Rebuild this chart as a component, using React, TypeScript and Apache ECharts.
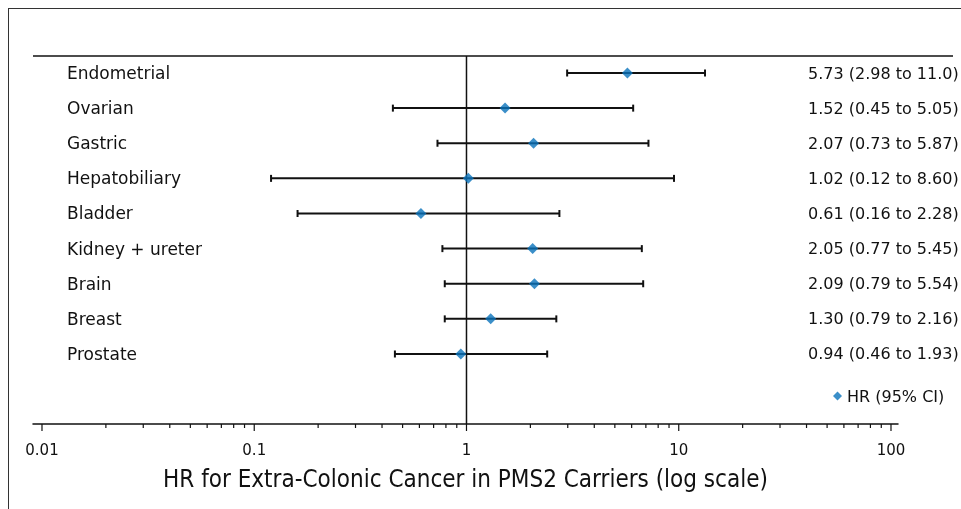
import React, { useEffect, useRef } from "react";
import * as echarts from "echarts";

// ---- data ----
const categories = [
  "Endometrial",
  "Ovarian",
  "Gastric",
  "Hepatobiliary",
  "Bladder",
  "Kidney + ureter",
  "Brain",
  "Breast",
  "Prostate",
];
const hr = [5.73, 1.52, 2.07, 1.02, 0.61, 2.05, 2.09, 1.3, 0.94];
const ciLow = [2.98, 0.45, 0.73, 0.12, 0.16, 0.77, 0.79, 0.79, 0.46];
const ciHighLabel = ["11.0", "5.05", "5.87", "8.60", "2.28", "5.45", "5.54", "2.16", "1.93"];
// upper whisker ends as drawn in the picture
const ciHighDrawn = [13.3, 6.1, 7.2, 9.5, 2.74, 6.7, 6.8, 2.65, 2.4];
const majorTicks = [0.01, 0.1, 1, 10, 100];
const tickLabels = ["0.01", "0.1", "1", "10", "100"];
const legendName = "HR (95% CI)";
const axisTitle = "HR for Extra-Colonic Cancer in PMS2 Carriers (log scale)";

// ---- layout ----
const GRID_LEFT = 24;
const GRID_TOP = 47;
const GRID_W = 865;
const GRID_H = 368;
const X_MIN = 0.009071;
const X_MAX = 107.9;
const Y_MIN = -0.484;
const Y_MAX = 9.993;
const CAT_X = 58;
const CI_TEXT_X = 799;
const TOP_LINE_RIGHT = 944;
const FONT = "'DejaVu Sans', sans-serif";
const INK = "#111";
const BLUE = "#0a73bb";

const minorTicks: number[] = [];
majorTicks.slice(0, -1).forEach((d) => {
  for (let k = 2; k <= 9; k++) minorTicks.push(k * d);
});

export default function App() {
  const ref = useRef<HTMLDivElement>(null);
  useEffect(() => {
    if (!ref.current) return;
    const chart = echarts.init(ref.current, null, { renderer: "svg" });
    const rows = categories.map((c, i) => [ciLow[i], ciHighDrawn[i], i]);
    const tickData = [
      ...majorTicks.map((v, i) => [v, 1, i]),
      ...minorTicks.map((v) => [v, 0, -1]),
    ];
    chart.setOption({
      animation: false,
      grid: { left: GRID_LEFT, top: GRID_TOP, width: GRID_W, height: GRID_H },
      legend: {
        data: [legendName],
        left: 824,
        top: 379,
        padding: 0,
        icon: "diamond",
        itemWidth: 9,
        itemHeight: 9,
        textStyle: { fontFamily: FONT, fontSize: 16, color: INK },
      },
      xAxis: {
        type: "log",
        logBase: 10,
        min: X_MIN,
        max: X_MAX,
        axisLine: { show: true, onZero: false, lineStyle: { color: INK, width: 1.5 } },
        axisTick: { show: false },
        axisLabel: { show: false },
        splitLine: { show: false },
        name: axisTitle,
        nameLocation: "middle",
        nameGap: 43,
        nameTextStyle: {
          fontFamily: "'DejaVu Sans Condensed', 'DejaVu Sans', sans-serif",
          fontSize: 24,
          color: INK,
        },
      },
      yAxis: {
        type: "value",
        inverse: true,
        min: Y_MIN,
        max: Y_MAX,
        show: false,
      },
      graphic: [
        {
          type: "line",
          shape: { x1: GRID_LEFT, y1: GRID_TOP, x2: TOP_LINE_RIGHT, y2: GRID_TOP },
          style: { stroke: INK, lineWidth: 1.5 },
        },
      ],
      series: [
        {
          type: "custom",
          name: "ref",
          silent: true,
          z: 1,
          data: [[1]],
          renderItem: (params: any, api: any) => {
            const cs = params.coordSys;
            const x = api.coord([api.value(0), 0])[0];
            return {
              type: "line",
              shape: { x1: x, y1: cs.y, x2: x, y2: cs.y + cs.height },
              style: { stroke: INK, lineWidth: 1.5 },
            };
          },
        },
        {
          type: "custom",
          name: "ticks",
          silent: true,
          z: 1,
          data: tickData,
          renderItem: (params: any, api: any) => {
            const cs = params.coordSys;
            const x = api.coord([api.value(0), 0])[0];
            const yb = cs.y + cs.height;
            const major = api.value(1) === 1;
            const children: any[] = [
              {
                type: "line",
                shape: { x1: x, y1: yb, x2: x, y2: yb + (major ? 7 : 4) },
                style: { stroke: INK, lineWidth: 1.2 },
              },
            ];
            if (major) {
              children.push({
                type: "text",
                x,
                y: yb + 26,
                style: {
                  text: tickLabels[api.value(2)],
                  fontFamily: FONT,
                  fontSize: 15,
                  fill: INK,
                  align: "center",
                  verticalAlign: "middle",
                },
              });
            }
            return { type: "group", children };
          },
        },
        {
          type: "custom",
          name: "ci",
          silent: true,
          z: 2,
          data: rows,
          encode: { x: [0, 1], y: 2 },
          renderItem: (params: any, api: any) => {
            const i = api.value(2);
            const p0 = api.coord([api.value(0), i]);
            const p1 = api.coord([api.value(1), i]);
            const y = p0[1];
            const lineStyle = { stroke: INK, lineWidth: 2 };
            return {
              type: "group",
              children: [
                { type: "line", shape: { x1: p0[0], y1: y, x2: p1[0], y2: y }, style: lineStyle },
                { type: "line", shape: { x1: p0[0], y1: y - 3.5, x2: p0[0], y2: y + 3.5 }, style: lineStyle },
                { type: "line", shape: { x1: p1[0], y1: y - 3.5, x2: p1[0], y2: y + 3.5 }, style: lineStyle },
                {
                  type: "text",
                  x: CAT_X,
                  y,
                  style: {
                    text: categories[i],
                    fontFamily: FONT,
                    fontSize: 17,
                    fill: INK,
                    align: "left",
                    verticalAlign: "middle",
                  },
                },
                {
                  type: "text",
                  x: CI_TEXT_X,
                  y,
                  style: {
                    text: `${hr[i].toFixed(2)} (${ciLow[i].toFixed(2)} to ${ciHighLabel[i]})`,
                    fontFamily: FONT,
                    fontSize: 16,
                    fill: INK,
                    align: "left",
                    verticalAlign: "middle",
                  },
                },
              ],
            };
          },
        },
        {
          type: "scatter",
          name: legendName,
          z: 3,
          symbol: "diamond",
          symbolSize: 11,
          itemStyle: { color: BLUE },
          data: hr.map((v, i) => [v, i]),
        },
      ],
    });
    return () => chart.dispose();
  }, []);
  return (
    <div
      style={{
        position: "fixed",
        left: 8,
        top: 8,
        right: 0,
        bottom: 0,
        overflow: "hidden",
      }}
    >
      <div
        ref={ref}
        style={{ width: 980, height: 520, border: "1px solid #333" }}
      />
    </div>
  );
}
